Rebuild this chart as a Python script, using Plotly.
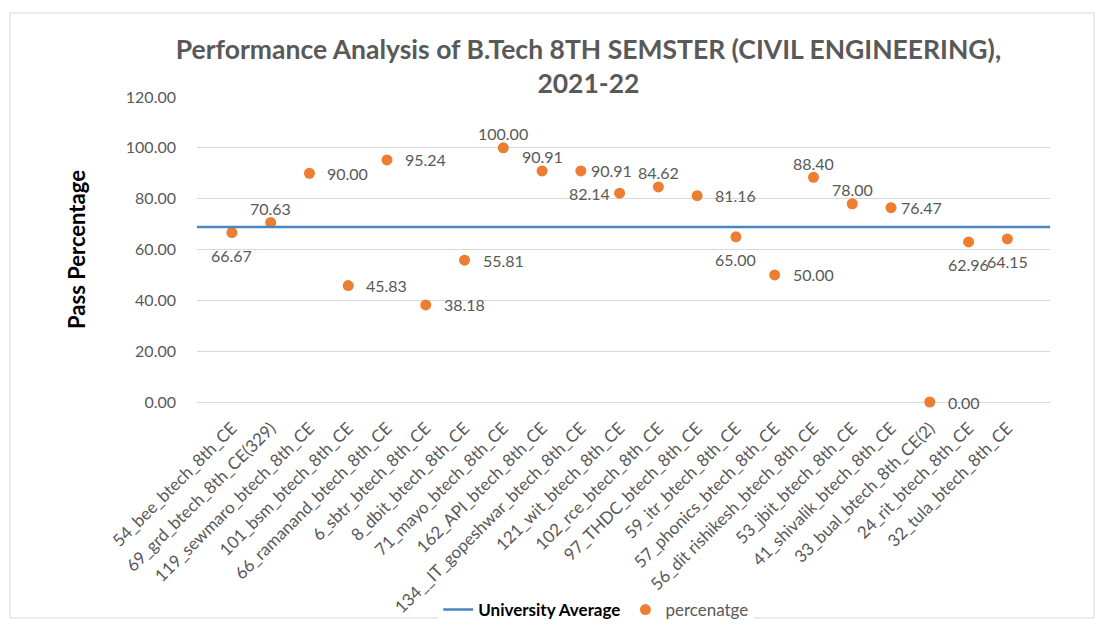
import plotly.graph_objects as go

# Colleges (category axis) and their pass percentages
colleges = [
    "54_bee_btech_8th_CE", "69_grd_btech_8th_CE(329)", "119_sewmaro_btech_8th_CE",
    "101_bsm_btech_8th_CE", "66_ramanand_btech_8th_CE", "6_sbtr_btech_8th_CE",
    "8_dbit_btech_8th_CE", "71_mayo_btech_8th_CE", "162_API_btech_8th_CE",
    "134__IT_gopeshwar_btech_8th_CE", "121_wit_btech_8th_CE", "102_rce_btech_8th_CE",
    "97_THDC_btech_8th_CE", "59_itr_btech_8th_CE", "57_phonics_btech_8th_CE",
    "56_dit rishikesh_btech_8th_CE", "53_jbit_btech_8th_CE", "41_shivalik_btech_8th_CE",
    "33_bual_btech_8th_CE(2)", "24_rit_btech_8th_CE", "32_tula_btech_8th_CE",
]
percentage = [66.67, 70.63, 90.00, 45.83, 95.24, 38.18, 55.81, 100.00, 90.91, 90.91,
              82.14, 84.62, 81.16, 65.00, 50.00, 88.40, 78.00, 76.47, 0.00, 62.96, 64.15]
university_average = 68.9

# Where each data label sits relative to its marker
label_pos = [
    "below", "above", "right", "right", "right", "right", "right", "above", "above",
    "right_near", "left_near", "above", "right", "below", "right", "above", "above",
    "right_near", "right", "below", "below",
]

y_ticks = [0, 20, 40, 60, 80, 100, 120]

GRAY = "#595959"
FONT = "Lato"

# anchor / pixel offset for each label placement
PLACEMENT = {
    "right": dict(xanchor="left", yanchor="middle", xshift=16, yshift=0),
    "right_near": dict(xanchor="left", yanchor="middle", xshift=8, yshift=0),
    "left_near": dict(xanchor="right", yanchor="middle", xshift=-8, yshift=0),
    "above": dict(xanchor="center", yanchor="middle", xshift=0, yshift=14),
    "below": dict(xanchor="center", yanchor="middle", xshift=0, yshift=-23),
}

fig = go.Figure()

# University average drawn across the full plot width on a hidden overlay axis
fig.add_trace(go.Scatter(
    x=[0, 1], y=[university_average, university_average],
    xaxis="x2", mode="lines",
    line=dict(color="#4a86bd", width=2.5),
    name="<b><span style='color:#000000'>University Average</span></b>",
    hoverinfo="skip",
))

fig.add_trace(go.Scatter(
    x=list(range(len(colleges))), y=percentage,
    mode="markers",
    marker=dict(color="#ED7D31", size=11),
    cliponaxis=False,
    name="percenatge",
))

for i, (v, pos) in enumerate(zip(percentage, label_pos)):
    fig.add_annotation(
        x=i, y=v, text=f"{v:.2f}", showarrow=False,
        font=dict(family=FONT, size=16, color=GRAY),
        **PLACEMENT[pos],
    )

fig.update_layout(
    width=1104, height=628,
    margin=dict(l=197, r=54, t=97, b=226, autoexpand=False),
    paper_bgcolor="white", plot_bgcolor="white",
    font=dict(family=FONT, color=GRAY, size=14),
    title=dict(
        text="Performance Analysis of B.Tech 8TH SEMSTER (CIVIL ENGINEERING),<br>2021-22",
        x=0.533, xanchor="center", yref="container", y=1 - 59 / 628, yanchor="middle",
        font=dict(family=FONT, size=26.5, color=GRAY, weight="bold"),
    ),
    xaxis=dict(
        range=[-0.9, 21.1],
        tickmode="array",
        tickvals=list(range(len(colleges))),
        ticktext=colleges,
        tickangle=-45,
        tickfont=dict(family=FONT, size=17, color=GRAY),
        showgrid=False, zeroline=False, showline=False,
        ticks="", ticklabelstandoff=12, automargin=False,
    ),
    xaxis2=dict(
        overlaying="x", range=[0, 1], visible=False,
    ),
    yaxis=dict(
        range=[0, 120],
        tickvals=y_ticks,
        ticktext=[f"{v:.2f}" for v in y_ticks],
        tickfont=dict(family=FONT, size=16, color=GRAY),
        showgrid=True, gridcolor="#d9d9d9", gridwidth=1,
        zeroline=True, zerolinecolor="#d9d9d9", zerolinewidth=1,
        showline=False, ticklabelstandoff=20, automargin=False,
        title=dict(text="<b>Pass Percentage</b>", font=dict(family=FONT, size=22, color="#000000"),
                   standoff=34),
    ),
    legend=dict(
        orientation="h", x=0.468, xanchor="center", y=-208 / 305, yanchor="middle",
        font=dict(family=FONT, size=17, color=GRAY),
    ),
    shapes=[dict(
        type="rect", xref="paper", yref="paper",
        x0=-187 / 853, x1=1.0 + 44 / 853, y0=-216 / 305, y1=1.0 + 84 / 305,
        line=dict(color="#d9d9d9", width=1),
    )],
)

fig.write_html("out.html")
